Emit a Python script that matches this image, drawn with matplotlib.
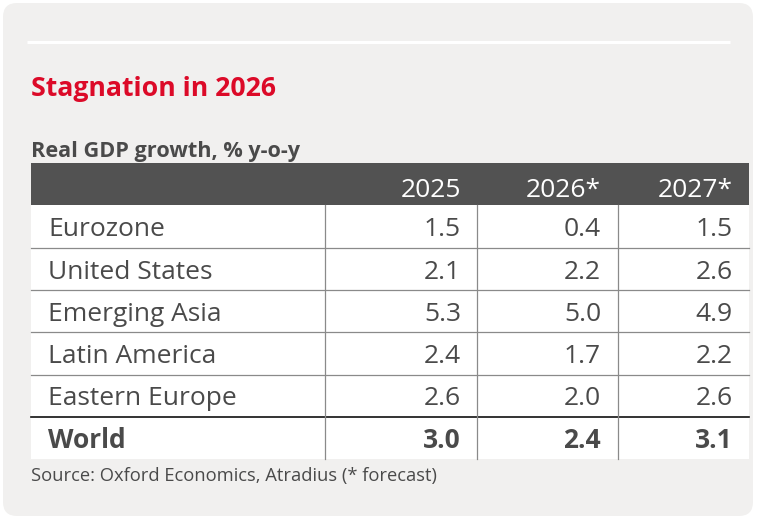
import matplotlib
matplotlib.use("Agg")
import matplotlib.pyplot as plt
from matplotlib.patches import FancyBboxPatch, Rectangle

plt.rcParams['font.family'] = ['Open Sans', 'DejaVu Sans']

title = "Stagnation in 2026"
subtitle = "Real GDP growth, % y-o-y"
source = "Source: Oxford Economics, Atradius (* forecast)"

years = ["2025", "2026*", "2027*"]
regions = ["Eurozone", "United States", "Emerging Asia", "Latin America", "Eastern Europe", "World"]
g2025 = [1.5, 2.1, 5.3, 2.4, 2.6, 3.0]
g2026 = [0.4, 2.2, 5.0, 1.7, 2.0, 2.4]
g2027 = [1.5, 2.6, 4.9, 2.2, 2.6, 3.1]

RED = "#dc0a28"
TXT = "#4a4a4a"
HEAD = "#525252"
PANEL = "#f1f0ef"

W, H = 758, 519
fig = plt.figure(figsize=(W / 100, H / 100), dpi=100)
fig.patch.set_facecolor("white")
ax = fig.add_axes([0, 0, 1, 1])
ax.set_xlim(0, W)
ax.set_ylim(H, 0)
ax.axis("off")

# panel
ax.add_patch(FancyBboxPatch((3, 3), 750, 513, boxstyle="round,pad=0,rounding_size=14",
                            fc=PANEL, ec="none"))
ax.plot([27, 730], [41.5, 41.5], color="white", lw=2.2, solid_capstyle="butt")

ax.text(31, 96, title, color=RED, fontsize=19.2, fontweight="bold", va="baseline")
ax.text(31, 156.5, subtitle, color=TXT, fontsize=15.6, fontweight="bold", va="baseline")

# table geometry
x0, x1 = 31, 749
col_lines = [325, 477, 618]
col_right = [461, 601, 733]
top = 163
rh = 42.3
lab_x = 48

ax.add_patch(Rectangle((x0, top), x1 - x0, rh, fc=HEAD, ec="none"))
for j, yr in enumerate(years):
    ax.text(col_right[j], top + rh / 2 + 3 + 9.8, yr, color="white", fontsize=19,
            ha="right", va="baseline")

body_top = top + rh
n = len(regions)
ax.add_patch(Rectangle((x0, body_top), x1 - x0, rh * n, fc="white", ec="none"))

cols = [g2025, g2026, g2027]
for i, reg in enumerate(regions):
    yc = body_top + rh * (i + 0.5)
    bold = reg == "World"
    fw = "bold" if bold else "normal"
    ax.text(lab_x, yc + 9.8, reg, color=TXT, fontsize=19, fontweight=fw, va="baseline")
    for j, vals in enumerate(cols):
        ax.text(col_right[j], yc + 9.8, f"{vals[i]:.1f}", color=TXT, fontsize=19,
                fontweight=fw, ha="right", va="baseline")
    if i > 0:
        yl = body_top + rh * i
        ax.plot([x0, x1], [yl, yl], color="#111111" if bold else "#8a8a8a",
                lw=1.2 if bold else 0.9)

for xc in col_lines:
    ax.plot([xc, xc], [body_top, body_top + rh * n], color="#8a8a8a", lw=0.9)

ax.text(31, 481, source, color=TXT, fontsize=13.2, va="baseline")

fig.savefig("out.png", dpi=100, facecolor="white")
